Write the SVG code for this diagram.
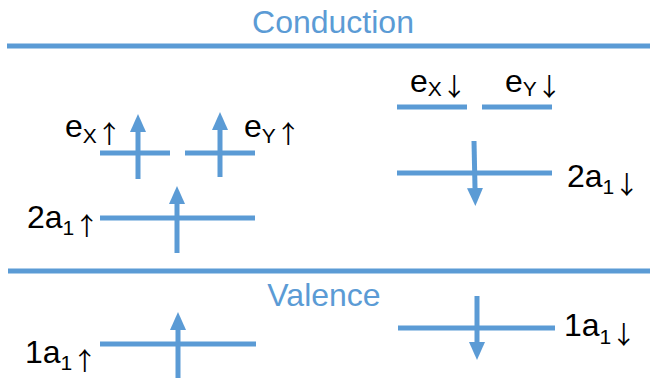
<svg xmlns="http://www.w3.org/2000/svg" width="650" height="380" viewBox="0 0 650 380">
<style>
.band{stroke:#5B9BD5;stroke-width:5;fill:none}
.lvl{stroke:#5B9BD5;stroke-width:5;fill:none}
.spin{stroke:#5B9BD5;stroke-width:5;fill:none}
.bandtxt{font-family:"Liberation Sans",Arial,sans-serif;font-size:32px;fill:#5B9BD5;text-anchor:middle}
.lbl{font-family:"Liberation Sans",Arial,sans-serif;font-size:32px;fill:#000}
.sub{font-size:21px}
.arr{font-family:"Noto Sans CJK JP","DejaVu Sans",sans-serif;font-size:25px}
</style>
<defs>
<marker id="ah" viewBox="0 0 18 16" markerWidth="18" markerHeight="16" refX="0" refY="8" orient="auto" markerUnits="userSpaceOnUse">
<path d="M0,0 L18,8 L0,16 z" fill="#5B9BD5"/>
</marker>
</defs>
<rect width="650" height="380" fill="#fff"/>
<g id="conduction">
<line class="band" x1="7" y1="46" x2="650" y2="46"/>
<text class="bandtxt" x="333" y="33">Conduction</text>
</g>
<g id="valence">
<line class="band" x1="8" y1="271" x2="650" y2="271"/>
<text class="bandtxt" x="324" y="306">Valence</text>
</g>
<g id="ex-up">
<line class="lvl" x1="100" y1="153" x2="170" y2="153"/>
<text class="lbl" x="65" y="137">e<tspan class="sub" dy="6">X</tspan><tspan class="arr">↑︎</tspan></text>
</g>
<g id="ey-up">
<line class="lvl" x1="185" y1="153" x2="255" y2="153"/>
<text class="lbl" x="244" y="137">e<tspan class="sub" dy="6">Y</tspan><tspan class="arr">↑︎</tspan></text>
</g>
<g id="a2-up">
<line class="lvl" x1="100" y1="218" x2="255" y2="218"/>
<text class="lbl" x="27" y="228">2a<tspan class="sub" dy="7">1</tspan><tspan class="arr">↑︎</tspan></text>
</g>
<g id="a1-up">
<line class="lvl" x1="100" y1="344" x2="256" y2="344"/>
<text class="lbl" x="25" y="363">1a<tspan class="sub" dy="7">1</tspan><tspan class="arr">↑︎</tspan></text>
</g>
<g id="ex-down">
<line class="lvl" x1="397" y1="107" x2="467" y2="107"/>
<text class="lbl" x="410" y="92">e<tspan class="sub" dy="4">X</tspan><tspan class="arr">↓︎</tspan></text>
</g>
<g id="ey-down">
<line class="lvl" x1="482" y1="107" x2="552" y2="107"/>
<text class="lbl" x="505" y="92">e<tspan class="sub" dy="4">Y</tspan><tspan class="arr">↓︎</tspan></text>
</g>
<g id="a2-down">
<line class="lvl" x1="397" y1="173" x2="552" y2="173"/>
<text class="lbl" x="567" y="187">2a<tspan class="sub" dy="7">1</tspan><tspan class="arr">↓︎</tspan></text>
</g>
<g id="a1-down">
<line class="lvl" x1="398" y1="328" x2="555" y2="328"/>
<text class="lbl" x="564" y="336">1a<tspan class="sub" dy="8">1</tspan><tspan class="arr">↓︎</tspan></text>
</g>
<g id="spins">
<line class="spin" x1="138" y1="179" x2="138" y2="132" marker-end="url(#ah)"/>
<line class="spin" x1="220" y1="177" x2="220" y2="130" marker-end="url(#ah)"/>
<line class="spin" x1="177" y1="253" x2="177" y2="204" marker-end="url(#ah)"/>
<line class="spin" x1="474" y1="141" x2="475" y2="188" marker-end="url(#ah)"/>
<line class="spin" x1="178" y1="378" x2="178" y2="330" marker-end="url(#ah)"/>
<line class="spin" x1="477" y1="296" x2="477" y2="342" marker-end="url(#ah)"/>
</g>
</svg>
